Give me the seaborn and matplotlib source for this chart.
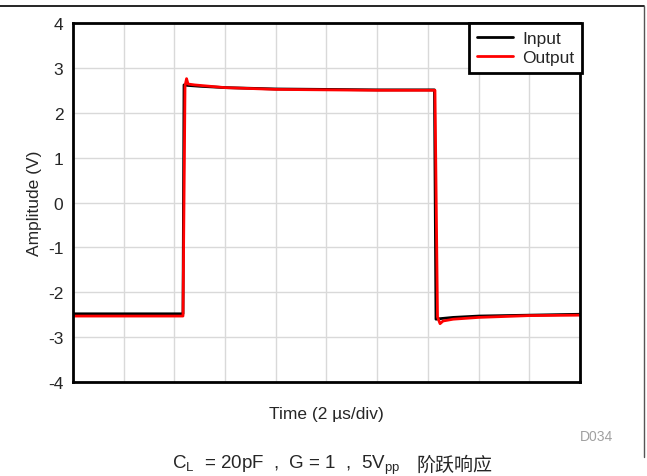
import matplotlib
matplotlib.use('Agg')
import matplotlib.pyplot as plt
import seaborn as sns
import pandas as pd
from matplotlib.lines import Line2D

# time in divisions (2 us/div), amplitude in volts
t_in = [0, 1.0, 2.17, 2.19, 2.25, 2.5, 3.0, 4.0, 5.0, 6.0, 7.13, 7.16, 7.22, 7.5, 8.0, 9.0, 10.0]
v_in = [-2.48, -2.48, -2.48, 2.62, 2.61, 2.59, 2.56, 2.53, 2.52, 2.51, 2.51, -2.6, -2.59, -2.56, -2.53, -2.51, -2.49]

t_out = [0, 1.0, 2.17, 2.21, 2.24, 2.27, 2.4, 3.0, 4.0, 5.0, 6.0, 7.14, 7.19, 7.24, 7.3, 7.5, 8.0, 9.0, 10.0]
v_out = [-2.53, -2.53, -2.53, 2.6, 2.76, 2.64, 2.62, 2.56, 2.52, 2.51, 2.5, 2.5, -2.55, -2.7, -2.64, -2.6, -2.56, -2.52, -2.51]

df = pd.concat([
    pd.DataFrame({'t': t_in, 'v': v_in, 'sig': 'Input'}),
    pd.DataFrame({'t': t_out, 'v': v_out, 'sig': 'Output'}),
])

sns.set_style('white')
plt.rcParams['font.family'] = ['Liberation Sans', 'Noto Sans CJK SC', 'DejaVu Sans']
plt.rcParams['mathtext.fontset'] = 'custom'
plt.rcParams['mathtext.rm'] = 'Liberation Sans'
plt.rcParams['axes.unicode_minus'] = False

fig = plt.figure(figsize=(6.47, 4.77), dpi=100)
ax = fig.add_axes([0.1128, 0.197, 0.7836, 0.7527])

sns.lineplot(data=df, x='t', y='v', hue='sig', palette={'Input': 'black', 'Output': '#ff0000'},
             estimator=None, sort=False, lw=2, ax=ax)

ax.set_xlim(0, 10)
ax.set_ylim(-4, 4)
ax.set_xticks(range(0, 11))
ax.set_xticklabels([])
ax.set_yticks(range(-4, 5))
ax.grid(True, color='#d9d9d9', lw=1)
ax.tick_params(length=0, labelsize=12.5, pad=7)
for s in ax.spines.values():
    s.set_visible(True)
    s.set_color('black')
    s.set_linewidth(2)

ax.set_xlabel('Time (2 µs/div)', fontsize=12.5, labelpad=10)
ax.set_ylabel('Amplitude (V)', fontsize=12.5, labelpad=4)

leg = ax.legend(loc='upper right', fontsize=12.5, frameon=True, fancybox=False,
                borderaxespad=0, handlelength=2.1, handletextpad=0.5,
                labelspacing=0.25, borderpad=0.45, bbox_to_anchor=(1.004, 1.0))
leg.get_frame().set_edgecolor('black')
leg.get_frame().set_linewidth(2)
leg.get_frame().set_alpha(1)

fig.text(0.922, 0.083, 'D034', color='#a0a0a0', fontsize=10, ha='center', va='center')
fig.text(0.266, 0.024, r'C$_{\mathrm{L}}$  = 20pF  ,  G = 1  ,  5V$_{\mathrm{pp}}$',
         fontsize=13.5, ha='left', va='center')
fig.text(0.644, 0.024, '阶跃响应', family=['Noto Sans CJK SC'], fontsize=13.7, ha='left', va='center')

fig.add_artist(Line2D([0, 0.995], [0.985, 0.985], color='black', lw=1.2, transform=fig.transFigure))
fig.add_artist(Line2D([0.995, 0.995], [0.985, 0.04], color='#555555', lw=1, transform=fig.transFigure))

fig.savefig('out.png', dpi=100)
